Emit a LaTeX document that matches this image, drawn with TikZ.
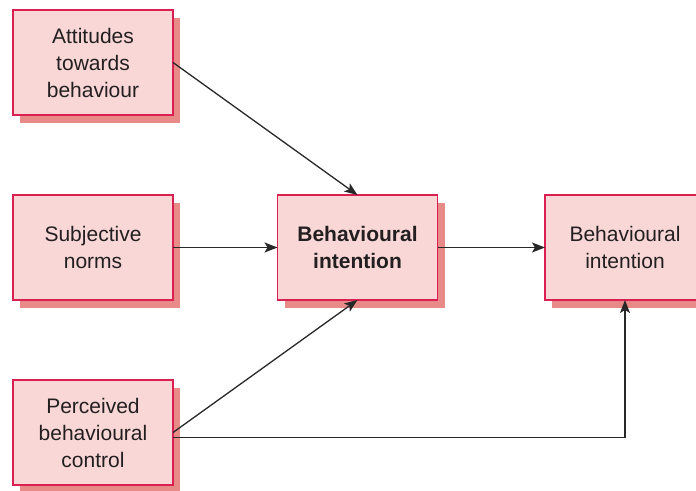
\documentclass[tikz,border=0pt]{standalone}
\usepackage{fontspec}
\setmainfont{Liberation Sans}
\usetikzlibrary{shadows,arrows.meta}
\definecolor{boxfill}{RGB}{248,215,214}
\definecolor{boxline}{RGB}{218,32,80}
\definecolor{shadowcol}{RGB}{232,138,136}
\definecolor{txtcol}{RGB}{35,31,32}
\definecolor{linecol}{RGB}{40,40,40}
\tikzset{
  modelbox/.style={draw=boxline, line width=1.3pt, fill=boxfill,
    minimum width=160pt, minimum height=105pt, inner sep=0pt, outer sep=0pt,
    align=center, text=txtcol, font=\fontsize{21}{27}\selectfont,
    general shadow={shadow xshift=7pt, shadow yshift=-8pt, fill=shadowcol, draw=none}},
  conn/.style={draw=linecol, line width=1.3pt,
    -{Stealth[length=13pt, width=10pt, inset=3pt]}}
}
\begin{document}
\begin{tikzpicture}[x=1pt, y=-1pt]
\useasboundingbox (0,0) rectangle (696,490);
\clip (0,0) rectangle (696,490);
\node[modelbox] (att) at (93,62.5) {Attitudes\\towards\\behaviour};
\node[modelbox] (subj) at (93,247.5) {Subjective\\norms};
\node[modelbox] (perc) at (93,432.5) {Perceived\\behavioural\\control};
\node[modelbox, font=\fontsize{21}{27}\selectfont\bfseries] (bi) at (357.5,247.5) {Behavioural\\intention};
\node[modelbox] (beh) at (625,247.5) {Behavioural\\intention};
\draw[conn] (att.east) -- (bi.north);
\draw[conn] (subj.east) -- (bi.west);
\draw[conn] (perc.east) -- (bi.south);
\draw[conn] (bi.east) -- (beh.west);
\draw[conn] ([yshift=-5pt]perc.east) -| (beh.south);
\end{tikzpicture}
\end{document}
